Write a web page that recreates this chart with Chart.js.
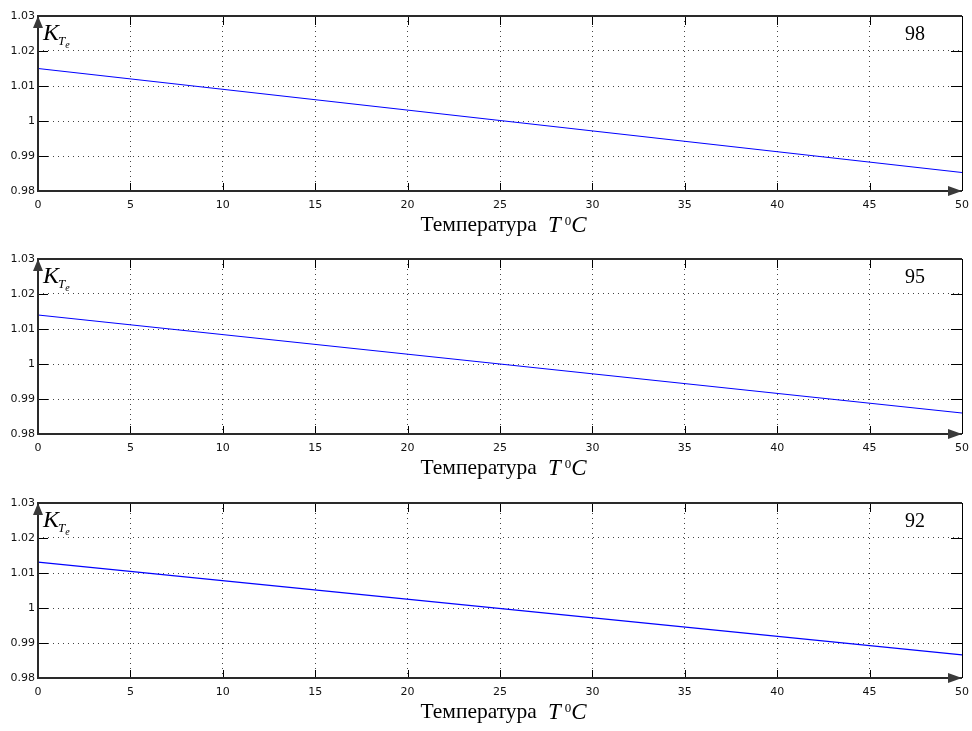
<!DOCTYPE html>
<html>
<head>
<meta charset="utf-8">
<script src="https://cdn.jsdelivr.net/npm/chart.js@4/dist/chart.umd.min.js"></script>
<style>
    body { margin: 0; background: #fff; }
    #wrap { position: relative; width: 972px; height: 731px; background: #fff; }
    #wrap canvas { position: absolute; left: 0; }
</style>
</head>
<body>
<div id="wrap">
    <canvas id="c0" width="972" height="243" style="top:0px"></canvas>
    <canvas id="c1" width="972" height="243" style="top:243px"></canvas>
    <canvas id="c2" width="972" height="243" style="top:487px"></canvas>
</div>
<script>
const temps = [0, 50];
const k98 = [1.0150, 0.9853];
const k95 = [1.0140, 0.9860];
const k92 = [1.0131, 0.9866];
const panelNames = ['98', '95', '92'];
const xTicks = [0, 5, 10, 15, 20, 25, 30, 35, 40, 45, 50];
const yTicks = [0.98, 0.99, 1.00, 1.01, 1.02, 1.03];

const serif = '"Liberation Serif", "Times New Roman", serif';

const fmtY = (v) => String(Number(v.toFixed(2)));

const decor = (name) => ({
    id: 'decor',
    afterDraw(chart) {
        const { ctx, chartArea: a, scales: { x, y } } = chart;
        ctx.save();

        // inward tick marks
        ctx.strokeStyle = '#000';
        ctx.lineWidth = 1;
        ctx.beginPath();
        xTicks.slice(1, -1).forEach((v) => {
            const px = Math.round(x.getPixelForValue(v)) + 0.5;
            ctx.moveTo(px, a.top);
            ctx.lineTo(px, a.top + 9);
            ctx.moveTo(px, a.bottom);
            ctx.lineTo(px, a.bottom - 8);
        });
        yTicks.slice(1, -1).forEach((v) => {
            const py = Math.round(y.getPixelForValue(v)) + 0.5;
            ctx.moveTo(a.left, py);
            ctx.lineTo(a.left + 10, py);
            ctx.moveTo(a.right, py);
            ctx.lineTo(a.right - 11, py);
        });
        ctx.stroke();

        // frame
        ctx.beginPath();
        ctx.moveTo(Math.round(a.right) + 0.5, a.top);
        ctx.lineTo(Math.round(a.right) + 0.5, a.bottom);
        ctx.stroke();
        ctx.strokeStyle = '#2a2a2a';
        ctx.lineWidth = 2;
        ctx.beginPath();
        ctx.moveTo(a.right, a.top);
        ctx.lineTo(a.left, a.top);
        ctx.lineTo(a.left, a.bottom);
        ctx.lineTo(a.right, a.bottom);
        ctx.stroke();

        // arrows
        ctx.fillStyle = '#3a3a3a';
        ctx.beginPath();
        ctx.moveTo(a.left, a.top);
        ctx.lineTo(a.left - 5, a.top + 12);
        ctx.lineTo(a.left + 5, a.top + 12);
        ctx.closePath();
        ctx.fill();
        ctx.beginPath();
        ctx.moveTo(a.right, a.bottom);
        ctx.lineTo(a.right - 14, a.bottom - 5);
        ctx.lineTo(a.right - 14, a.bottom + 5);
        ctx.closePath();
        ctx.fill();

        // K_{T_e}
        ctx.fillStyle = '#000';
        ctx.textAlign = 'left';
        ctx.textBaseline = 'alphabetic';
        ctx.font = `italic 24px ${serif}`;
        const kx = a.left + 5;
        ctx.fillText('K', kx, a.top + 24);
        const kw = ctx.measureText('K').width;
        ctx.font = `italic 13px ${serif}`;
        ctx.fillText('T', kx + kw - 1, a.top + 29);
        const tw = ctx.measureText('T').width;
        ctx.font = `italic 10px ${serif}`;
        ctx.fillText('e', kx + kw + tw - 1, a.top + 32);

        // panel name
        ctx.font = `20px ${serif}`;
        ctx.textAlign = 'right';
        ctx.fillText(name, a.right - 37, a.top + 24);

        // axis title: Температура T ⁰C
        ctx.textAlign = 'left';
        const base = a.bottom + 40;
        const f1 = `21.5px ${serif}`;
        const f2 = `italic 23px ${serif}`;
        const f3 = `13px ${serif}`;
        ctx.font = f1;
        const w1 = ctx.measureText('Температура').width;
        ctx.font = f2;
        const wT = ctx.measureText('T').width;
        const wC = ctx.measureText('C').width;
        ctx.font = f3;
        const w0 = ctx.measureText('0').width;
        const gap = 11;
        const total = w1 + gap + wT + 4 + w0 + wC;
        let cx = (a.left + a.right) / 2 + 3.5 - total / 2;
        ctx.font = f1;
        ctx.fillText('Температура', cx, base);
        cx += w1 + gap;
        ctx.font = f2;
        ctx.fillText('T', cx, base + 1);
        cx += wT + 4;
        ctx.font = f3;
        ctx.fillText('0', cx, base - 6);
        cx += w0;
        ctx.font = f2;
        ctx.fillText('C', cx, base + 1);

        ctx.restore();
    },
});

const makeChart = (id, values, name) => {
    const canvas = document.getElementById(id);
    return new Chart(canvas, {
        type: 'line',
        data: {
            datasets: [
                {
                    data: temps.map((t, i) => ({ x: t, y: values[i] })),
                    borderColor: '#0000ff',
                    borderWidth: 1.1,
                    pointRadius: 0,
                    fill: false,
                    tension: 0,
                },
            ],
        },
        options: {
            responsive: false,
            animation: false,
            layout: { padding: { top: 16, right: 10, left: 0, bottom: 0 } },
            plugins: {
                legend: { display: false },
                tooltip: { enabled: false },
            },
            scales: {
                x: {
                    type: 'linear',
                    min: 0,
                    max: 50,
                    afterBuildTicks: (scale) => { scale.ticks = xTicks.map((v) => ({ value: v })); },
                    afterFit: (scale) => {
                        scale.height = 52;
                        scale.paddingLeft = 0;
                        scale.paddingRight = 0;
                    },
                    grid: { color: '#444', lineWidth: 1, drawTicks: false },
                    border: { display: false, dash: [1, 4] },
                    ticks: {
                        padding: 8,
                        color: '#111',
                        maxRotation: 0,
                        font: { family: '"DejaVu Sans"', size: 11 },
                        callback: (v) => String(v),
                    },
                },
                y: {
                    type: 'linear',
                    min: 0.98,
                    max: 1.03,
                    afterBuildTicks: (scale) => { scale.ticks = yTicks.map((v) => ({ value: v })); },
                    afterFit: (scale) => {
                        scale.width = 38;
                        scale.paddingTop = 0;
                        scale.paddingBottom = 0;
                    },
                    grid: { color: '#444', lineWidth: 1, drawTicks: false },
                    border: { display: false, dash: [1, 4] },
                    ticks: {
                        padding: 3,
                        color: '#111',
                        font: { family: '"DejaVu Sans"', size: 11 },
                        callback: (v) => fmtY(v),
                    },
                },
            },
        },
        plugins: [decor(name)],
    });
};

document.addEventListener('DOMContentLoaded', () => {
    makeChart('c0', k98, panelNames[0]);
    makeChart('c1', k95, panelNames[1]);
    makeChart('c2', k92, panelNames[2]);
});
</script>
</body>
</html>
